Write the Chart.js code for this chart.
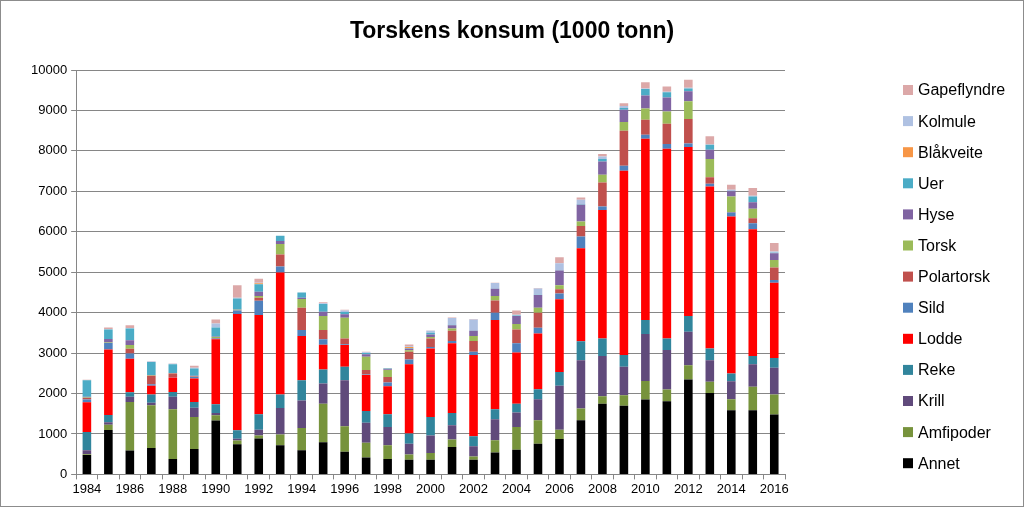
<!DOCTYPE html>
<html>
<head>
<meta charset="utf-8">
<script src="https://cdn.jsdelivr.net/npm/chart.js@4/dist/chart.umd.min.js"></script>
<style>
  html, body { margin: 0; padding: 0; background: #ffffff; }
  #wrap { position: relative; width: 1024px; height: 507px; }
</style>
</head>
<body>
<div id="wrap"><canvas id="chart"></canvas></div>
<script>
// Torskens konsum (1000 tonn) - stacked bars per year
const years = ['1984', '1985', '1986', '1987', '1988', '1989', '1990', '1991', '1992', '1993', '1994',
    '1995', '1996', '1997', '1998', '1999', '2000', '2001', '2002', '2003', '2004', '2005',
    '2006', '2007', '2008', '2009', '2010', '2011', '2012', '2013', '2014', '2015', '2016'];

const annet = [480, 1100, 590, 650, 380, 630, 1330, 745, 885, 720, 595, 795, 560, 415, 380, 365, 365, 680, 365, 540, 610, 760, 875, 1340, 1750, 1700, 1850, 1810, 2345, 2015, 1585, 1585, 1480];
const amfipoder = [20, 130, 1200, 1060, 1230, 790, 130, 95, 80, 265, 555, 955, 630, 370, 340, 125, 165, 180, 80, 305, 565, 580, 230, 290, 180, 260, 460, 290, 355, 275, 275, 580, 495];
const krill = [95, 60, 130, 60, 310, 230, 60, 40, 140, 660, 675, 500, 1140, 495, 455, 270, 435, 355, 250, 520, 355, 520, 1085, 1195, 995, 700, 1160, 975, 825, 535, 445, 560, 660];
const reke = [455, 180, 110, 205, 120, 140, 215, 210, 385, 330, 505, 345, 330, 290, 315, 250, 455, 305, 250, 245, 220, 245, 345, 470, 435, 290, 345, 285, 390, 290, 190, 205, 245];
const lodde = [735, 1620, 830, 215, 355, 580, 1610, 2875, 2450, 3015, 1090, 610, 540, 885, 690, 1715, 1695, 1720, 2005, 2205, 1265, 1380, 1795, 2295, 3180, 4560, 4485, 4690, 4180, 4005, 3880, 3135, 1860];
const sild = [65, 160, 130, 40, 5, 40, 15, 85, 355, 150, 150, 135, 20, 15, 90, 115, 35, 60, 80, 185, 225, 140, 145, 290, 85, 120, 100, 120, 85, 65, 100, 145, 70];
const polartorsk = [40, 0, 120, 210, 95, 10, 10, 10, 75, 300, 550, 230, 140, 110, 140, 190, 210, 250, 270, 300, 340, 370, 105, 265, 595, 870, 370, 500, 610, 165, 15, 125, 305];
const torsk = [10, 10, 90, 10, 5, 10, 30, 10, 40, 260, 215, 345, 515, 330, 170, 40, 40, 60, 120, 110, 140, 125, 100, 110, 190, 215, 275, 305, 435, 450, 385, 235, 185];
const hyse = [20, 90, 120, 10, 10, 10, 10, 10, 105, 70, 35, 110, 85, 60, 20, 40, 60, 80, 130, 180, 200, 315, 360, 410, 330, 305, 325, 345, 250, 230, 125, 160, 170];
const uer = [410, 230, 290, 320, 215, 180, 220, 270, 190, 130, 130, 190, 55, 30, 20, 10, 40, 10, 10, 10, 10, 10, 10, 15, 60, 40, 160, 130, 65, 120, 10, 140, 10];
const blakveite = [0, 0, 0, 0, 0, 0, 0, 0, 20, 0, 0, 0, 0, 0, 0, 30, 0, 0, 0, 0, 0, 0, 0, 0, 0, 0, 0, 0, 0, 0, 0, 0, 0];
const kolmule = [0, 10, 10, 10, 10, 20, 100, 20, 15, 0, 0, 15, 40, 20, 0, 20, 50, 170, 270, 130, 20, 155, 170, 110, 60, 50, 10, 10, 20, 10, 30, 20, 30];
const gapeflyndre = [10, 40, 70, 10, 10, 45, 100, 310, 100, 0, 0, 25, 15, 10, 10, 40, 10, 10, 10, 10, 100, 10, 150, 60, 60, 70, 160, 130, 200, 200, 120, 190, 210];

const yTicks = [0, 1000, 2000, 3000, 4000, 5000, 6000, 7000, 8000, 9000, 10000];

// bottom to top
const series = [
    { label: 'Annet', data: annet, color: '#000000' },
    { label: 'Amfipoder', data: amfipoder, color: '#77933C' },
    { label: 'Krill', data: krill, color: '#604A7B' },
    { label: 'Reke', data: reke, color: '#31859C' },
    { label: 'Lodde', data: lodde, color: '#FF0000' },
    { label: 'Sild', data: sild, color: '#4F81BD' },
    { label: 'Polartorsk', data: polartorsk, color: '#C0504D' },
    { label: 'Torsk', data: torsk, color: '#9BBB59' },
    { label: 'Hyse', data: hyse, color: '#8064A2' },
    { label: 'Uer', data: uer, color: '#4BACC6' },
    { label: 'Blåkveite', data: blakveite, color: '#F79646' },
    { label: 'Kolmule', data: kolmule, color: '#AFC1E2' },
    { label: 'Gapeflyndre', data: gapeflyndre, color: '#DCA8A8' }
];

const FONT = '"Liberation Sans", Arial, sans-serif';

// title, frame and legend drawn by hand so they sit where Excel put them
const decorPlugin = {
    id: 'decor',
    afterDraw: function (chart) {
        const ctx = chart.ctx;
        ctx.save();
        ctx.strokeStyle = '#8c8c8c';
        ctx.lineWidth = 1;
        ctx.strokeRect(0.5, 0.5, chart.width - 1, chart.height - 1);

        ctx.fillStyle = '#000000';
        ctx.font = 'bold 23px ' + FONT;
        ctx.textAlign = 'center';
        ctx.textBaseline = 'middle';
        ctx.fillText('Torskens konsum (1000 tonn)', 512, 32);

        ctx.font = '16px ' + FONT;
        ctx.textAlign = 'left';
        const items = chart.data.datasets.slice().reverse();
        items.forEach(function (ds, i) {
            const y = 90 + i * 31.1;
            ctx.fillStyle = ds.backgroundColor;
            ctx.fillRect(903, y - 5, 10, 10);
            ctx.fillStyle = '#000000';
            ctx.fillText(ds.label, 918, y + 1);
        });
        ctx.restore();
    }
};

new Chart(document.getElementById('chart'), {
    type: 'bar',
    data: {
        labels: years,
        datasets: series.map(function (s) {
            return {
                label: s.label,
                data: s.data,
                backgroundColor: s.color,
                borderWidth: 0,
                barPercentage: 0.4,
                categoryPercentage: 1.0
            };
        })
    },
    options: {
        responsive: true,
        maintainAspectRatio: false,
        animation: false,
        layout: { padding: { left: 27, right: 239, top: 70, bottom: 8 } },
        plugins: {
            legend: { display: false },
            title: { display: false },
            tooltip: { enabled: false }
        },
        scales: {
            x: {
                stacked: true,
                grid: {
                    offset: true,
                    drawOnChartArea: false,
                    drawTicks: true,
                    tickLength: 5,
                    color: '#868686'
                },
                border: { color: '#868686' },
                ticks: {
                    autoSkip: false,
                    maxRotation: 0,
                    padding: 2,
                    color: '#000000',
                    font: { family: FONT, size: 13 },
                    callback: function (value, index) {
                        return index % 2 === 0 ? years[index] : '';
                    }
                }
            },
            y: {
                stacked: true,
                min: 0,
                max: 10000,
                afterBuildTicks: function (axis) {
                    axis.ticks = yTicks.map(function (v) { return { value: v }; });
                },
                grid: {
                    color: '#868686',
                    tickLength: 5
                },
                border: { color: '#868686' },
                ticks: {
                    padding: 4,
                    color: '#000000',
                    font: { family: FONT, size: 13 },
                    callback: function (value) {
                        return String(value);
                    }
                }
            }
        }
    },
    plugins: [decorPlugin]
});
</script>
</body>
</html>
